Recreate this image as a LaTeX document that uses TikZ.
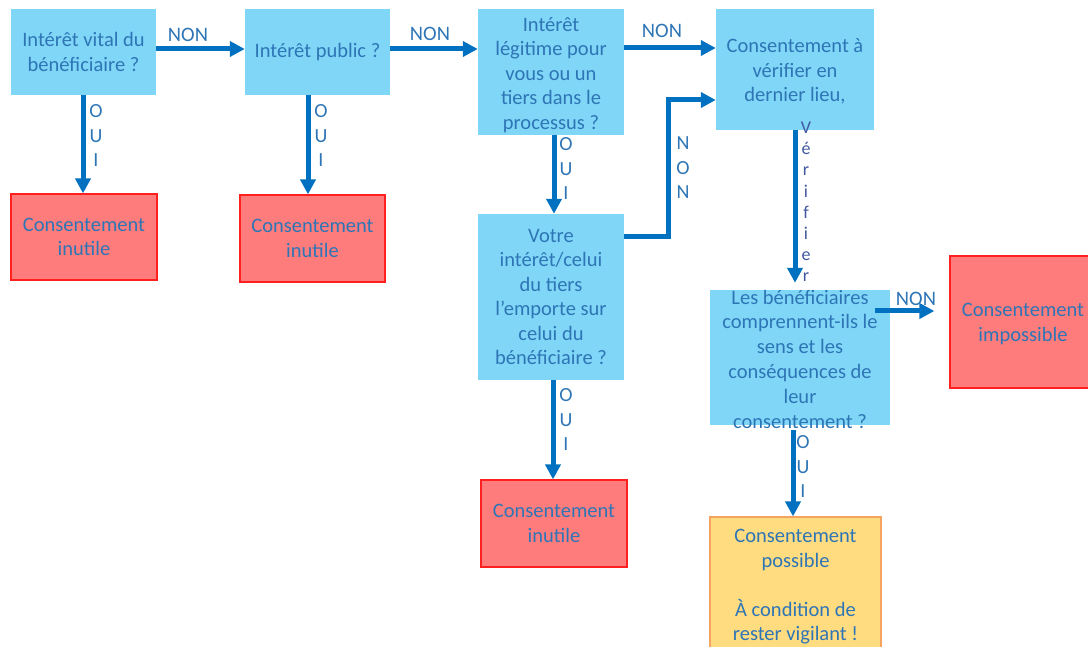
\documentclass[tikz,border=0pt]{standalone}
\usepackage{fontspec}
\setmainfont{Carlito}
\usetikzlibrary{arrows.meta}
\definecolor{boxblue}{HTML}{7FD6F7}
\definecolor{boxred}{HTML}{FF7C7C}
\definecolor{bordred}{HTML}{FF2020}
\definecolor{boxyel}{HTML}{FFDC80}
\definecolor{bordyel}{HTML}{F4A460}
\definecolor{txtblue}{HTML}{2E75B6}
\definecolor{arrblue}{HTML}{0070C0}
\definecolor{verblue}{HTML}{40589F}
\tikzset{
  base/.style={rectangle, inner sep=0pt, align=center, text=txtblue,
    font=\fontsize{20.5}{24.5}\selectfont},
  qbox/.style={base, fill=boxblue, draw=none},
  rbox/.style={base, fill=boxred, draw=bordred, line width=1.2pt},
  ybox/.style={base, fill=boxyel, draw=bordyel, line width=1.2pt},
  txt/.style={inner sep=0pt, align=center, text=txtblue,
    font=\fontsize{20.5}{24.5}\selectfont},
  vtxt/.style={inner sep=0pt, align=center, text=txtblue,
    font=\fontsize{20}{24.5}\selectfont},
  arr/.style={draw=arrblue, line width=5pt,
    -{Triangle[length=15pt,width=15pt]}},
}
\begin{document}
\begin{tikzpicture}[x=1pt,y=-1pt]
\useasboundingbox (0,0) rectangle (1088,647);
% question boxes
\node[qbox, minimum width=145pt, minimum height=86pt] (n1) at (83.5,52) {Intérêt vital du\\bénéficiaire ?};
\node[qbox, minimum width=145pt, minimum height=86pt] (n2) at (317.5,52) {Intérêt public ?};
\node[qbox, minimum width=146pt, minimum height=126pt] (n5) at (551,72) {};
\node[txt] (t5) at (551,75) {Intérêt\\légitime pour\\vous ou un\\tiers dans le\\processus ?};
\node[qbox, minimum width=158pt, minimum height=121pt] (n6) at (795,69.5) {};
\node[txt] (t6) at (795,71.5) {Consentement à\\vérifier en\\dernier lieu,};
\node[qbox, minimum width=146pt, minimum height=166pt] (n7) at (551,297) {Votre\\intérêt/celui\\du tiers\\l’emporte sur\\celui du\\bénéficiaire ?};
\node[qbox, minimum width=180pt, minimum height=135pt] (n8) at (800,357.5) {};
\node[txt, font=\fontsize{20.5}{24.8}\selectfont] (t8) at (800,359) {Les bénéficiaires\\comprennent-ils le\\sens et les\\conséquences de\\leur\\consentement ?};
% result boxes
\node[rbox, minimum width=146pt, minimum height=86pt] (n3) at (84,237) {Consentement\\inutile};
\node[rbox, minimum width=145pt, minimum height=87pt] (n4) at (312.5,238.5) {Consentement\\inutile};
\node[rbox, minimum width=146pt, minimum height=87pt] (n10) at (554,523.5) {Consentement\\inutile};
\node[rbox, minimum width=146pt, minimum height=132pt] (n9) at (1023,322) {};
\node[txt] (t9) at (1023,324) {Consentement\\impossible};
\node[ybox, minimum width=171pt, minimum height=150pt] (n11) at (795.5,592) {};
\node[txt, anchor=north] (t11) at (795.5,529) {Consentement\\possible\\\\À condition de\\rester vigilant !};
% horizontal arrows
\draw[arr] ([yshift=3pt]n1.east) -- ([yshift=3pt]n1.east -| n2.west);
\draw[arr] ([yshift=3pt]n2.east) -- ([yshift=3pt]n2.east -| n5.west);
\draw[arr] ([yshift=24pt]n5.east) -- ([yshift=24pt]n5.east -| n6.west);
\coordinate (bend) at (668,100);
\draw[arr] ([yshift=60pt]n7.east) -| (bend) -- (bend -| n6.west);
\draw[arr] ([xshift=-15pt,yshift=46.5pt]n8.east) -- ([xshift=-15pt,yshift=46.5pt]n8.east -| n9.west);
% vertical arrows
\draw[arr] ([xshift=-0.5pt]n1.south) -- ([xshift=-0.5pt]n1.south |- n3.north);
\draw[arr] ([xshift=-9.5pt]n2.south) -- ([xshift=-9.5pt]n2.south |- n4.north);
\draw[arr] ([xshift=3pt]n5.south) -- ([xshift=3pt]n5.south |- n7.north);
\draw[arr] ([xshift=2pt]n7.south) -- ([xshift=2pt]n7.south |- n10.north);
\draw[arr] (n6.south) -- ([yshift=7pt]n6.south |- n8.north);
\draw[arr] ([xshift=-7pt,yshift=-5pt]n8.south) -- ([xshift=-7pt]n8.south |- n11.north);
% labels
\node[txt] (l12) at (188,35) {NON};
\node[txt] (l25) at (430,34) {NON};
\node[txt] (l56) at (662,31) {NON};
\node[txt] (l89) at (916,299) {NON};
\node[vtxt] (l76) at (683,168) {N\\O\\N};
\node[vtxt] (l13) at (96,136) {O\\U\\I};
\node[vtxt] (l24) at (321,136) {O\\U\\I};
\node[vtxt] (l57) at (566,169) {O\\U\\I};
\node[vtxt] (l710) at (566,420) {O\\U\\I};
\node[vtxt] (l811) at (803,467) {O\\U\\I};
\node[inner sep=0pt, align=center, text=verblue, font=\fontsize{18}{21.2}\selectfont] (lver) at (806,202) {V\\é\\r\\i\\f\\i\\e\\r};
\end{tikzpicture}
\end{document}
